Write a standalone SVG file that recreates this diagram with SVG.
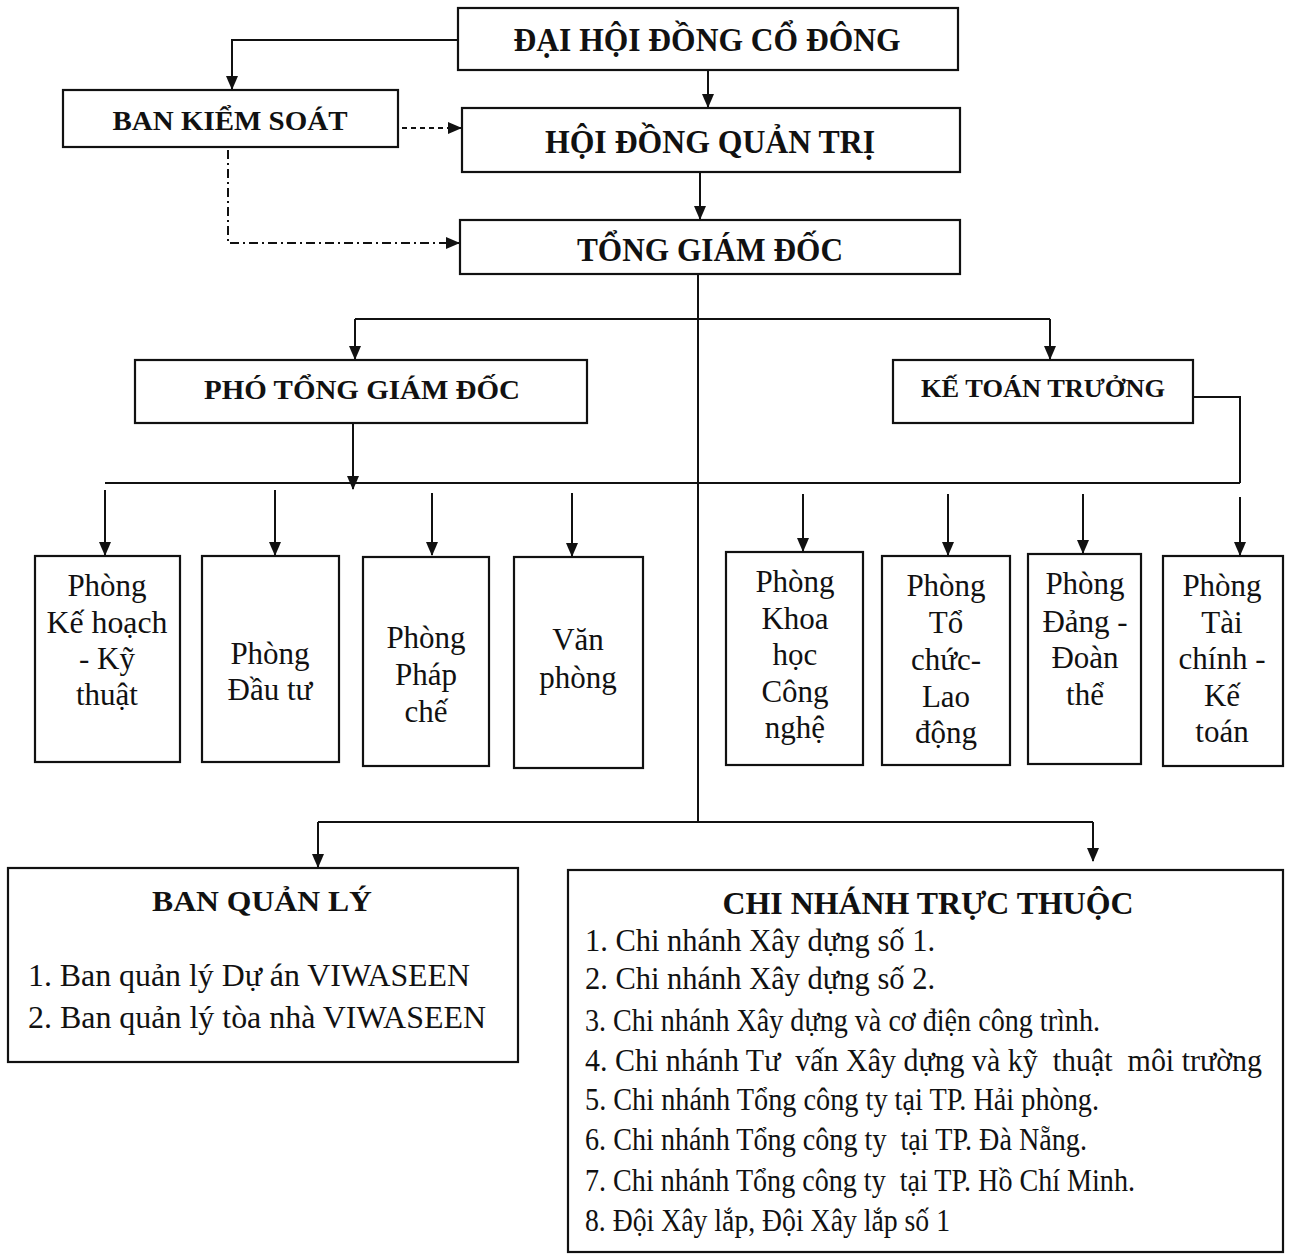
<svg xmlns="http://www.w3.org/2000/svg" width="1291" height="1260" viewBox="0 0 1291 1260">
<style>
.box{fill:#fff;stroke:#111;stroke-width:2.2}
.t{font-family:"Liberation Serif","Times New Roman",serif;fill:#111}
.b{font-weight:bold}
.c{text-anchor:middle}
.ln{fill:none;stroke:#111;stroke-width:2}
.dot{stroke-dasharray:5 4}
.dd{stroke-dasharray:9 4 2 4}
.p{font-size:31px;text-anchor:middle}
.li{font-size:31px}
</style>
<defs>
<marker id="ah" markerWidth="14" markerHeight="14" viewBox="0 0 14 14" refX="13" refY="7" orient="auto" markerUnits="userSpaceOnUse">
<path d="M0,1 L14,7 L0,13 z" fill="#111"/>
</marker>
</defs>
<rect width="1291" height="1260" fill="#fff"/>

<g id="connectors">
<path class="ln" d="M458,40 H232 V89" marker-end="url(#ah)"/>
<path class="ln" d="M708,70 V107" marker-end="url(#ah)"/>
<path class="ln dot" d="M402,128 H461" marker-end="url(#ah)"/>
<path class="ln" d="M700,172 V219" marker-end="url(#ah)"/>
<path class="ln dd" d="M228,150 V243 H459" marker-end="url(#ah)"/>
<path class="ln" d="M698,274 V822"/>
<path class="ln" d="M355,319 H1050"/>
<path class="ln" d="M355,319 V359" marker-end="url(#ah)"/>
<path class="ln" d="M1050,319 V359" marker-end="url(#ah)"/>
<path class="ln" d="M353,423 V489" marker-end="url(#ah)"/>
<path class="ln" d="M105,483 H1240"/>
<path class="ln" d="M1193,397 H1240 V483"/>
<path class="ln" d="M105,490 V555" marker-end="url(#ah)"/>
<path class="ln" d="M275,490 V555" marker-end="url(#ah)"/>
<path class="ln" d="M432,493 V555" marker-end="url(#ah)"/>
<path class="ln" d="M572,493 V556" marker-end="url(#ah)"/>
<path class="ln" d="M803,494 V551" marker-end="url(#ah)"/>
<path class="ln" d="M948,494 V555" marker-end="url(#ah)"/>
<path class="ln" d="M1083,494 V553" marker-end="url(#ah)"/>
<path class="ln" d="M1240,497 V555" marker-end="url(#ah)"/>
<path class="ln" d="M318,822 H1093"/>
<path class="ln" d="M318,822 V867" marker-end="url(#ah)"/>
<path class="ln" d="M1093,822 V861" marker-end="url(#ah)"/>
</g>

<g id="dai-hoi-dong-co-dong">
<rect class="box" x="458" y="8" width="500" height="62"/>
<text class="t b c" x="707" y="51" font-size="33" textLength="387" lengthAdjust="spacingAndGlyphs">ĐẠI HỘI ĐỒNG CỔ ĐÔNG</text>
</g>
<g id="ban-kiem-soat">
<rect class="box" x="63" y="90" width="335" height="57"/>
<text class="t b c" x="230" y="130" font-size="28" textLength="235" lengthAdjust="spacingAndGlyphs">BAN KIỂM SOÁT</text>
</g>
<g id="hoi-dong-quan-tri">
<rect class="box" x="462" y="108" width="498" height="64"/>
<text class="t b c" x="710" y="153" font-size="33" textLength="330" lengthAdjust="spacingAndGlyphs">HỘI ĐỒNG QUẢN TRỊ</text>
</g>
<g id="tong-giam-doc">
<rect class="box" x="460" y="220" width="500" height="54"/>
<text class="t b c" x="710" y="261" font-size="33" textLength="266" lengthAdjust="spacingAndGlyphs">TỔNG GIÁM ĐỐC</text>
</g>
<g id="pho-tong-giam-doc">
<rect class="box" x="135" y="360" width="452" height="63"/>
<text class="t b c" x="362" y="399" font-size="28" textLength="316" lengthAdjust="spacingAndGlyphs">PHÓ TỔNG GIÁM ĐỐC</text>
</g>
<g id="ke-toan-truong">
<rect class="box" x="893" y="360" width="300" height="63"/>
<text class="t b c" x="1043" y="397" font-size="26" textLength="244" lengthAdjust="spacingAndGlyphs">KẾ TOÁN TRƯỞNG</text>
</g>

<g id="phong-ke-hoach-ky-thuat">
<rect class="box" x="35" y="556" width="145" height="206"/>
<text class="t p" x="107" y="596">Phòng</text>
<text class="t p" x="107" y="633" textLength="121" lengthAdjust="spacingAndGlyphs">Kế hoạch</text>
<text class="t p" x="107" y="669">- Kỹ</text>
<text class="t p" x="107" y="705">thuật</text>
</g>
<g id="phong-dau-tu">
<rect class="box" x="202" y="556" width="137" height="206"/>
<text class="t p" x="270" y="664">Phòng</text>
<text class="t p" x="270" y="700">Đầu tư</text>
</g>
<g id="phong-phap-che">
<rect class="box" x="363" y="557" width="126" height="209"/>
<text class="t p" x="426" y="648">Phòng</text>
<text class="t p" x="426" y="685">Pháp</text>
<text class="t p" x="426" y="722">chế</text>
</g>
<g id="van-phong">
<rect class="box" x="514" y="557" width="129" height="211"/>
<text class="t p" x="578" y="650">Văn</text>
<text class="t p" x="578" y="688">phòng</text>
</g>
<g id="phong-khoa-hoc-cong-nghe">
<rect class="box" x="726" y="552" width="137" height="213"/>
<text class="t p" x="795" y="592">Phòng</text>
<text class="t p" x="795" y="629">Khoa</text>
<text class="t p" x="795" y="665">học</text>
<text class="t p" x="795" y="702">Công</text>
<text class="t p" x="795" y="738">nghệ</text>
</g>
<g id="phong-to-chuc-lao-dong">
<rect class="box" x="882" y="556" width="128" height="209"/>
<text class="t p" x="946" y="596">Phòng</text>
<text class="t p" x="946" y="633">Tổ</text>
<text class="t p" x="946" y="670">chức-</text>
<text class="t p" x="946" y="707">Lao</text>
<text class="t p" x="946" y="743">động</text>
</g>
<g id="phong-dang-doan-the">
<rect class="box" x="1028" y="554" width="113" height="210"/>
<text class="t p" x="1085" y="594">Phòng</text>
<text class="t p" x="1085" y="632">Đảng -</text>
<text class="t p" x="1085" y="668">Đoàn</text>
<text class="t p" x="1085" y="705">thể</text>
</g>
<g id="phong-tai-chinh-ke-toan">
<rect class="box" x="1163" y="556" width="120" height="210"/>
<text class="t p" x="1222" y="596">Phòng</text>
<text class="t p" x="1222" y="633">Tài</text>
<text class="t p" x="1222" y="669">chính -</text>
<text class="t p" x="1222" y="706">Kế</text>
<text class="t p" x="1222" y="742">toán</text>
</g>

<g id="ban-quan-ly">
<rect class="box" x="8" y="868" width="510" height="194"/>
<text class="t b c" x="262" y="911" font-size="30" textLength="220" lengthAdjust="spacingAndGlyphs">BAN QUẢN LÝ</text>
<text class="t li" x="28" y="986" textLength="442" lengthAdjust="spacingAndGlyphs">1. Ban quản lý Dự án VIWASEEN</text>
<text class="t li" x="28" y="1028" textLength="458" lengthAdjust="spacingAndGlyphs">2. Ban quản lý tòa nhà VIWASEEN</text>
</g>
<g id="chi-nhanh-truc-thuoc">
<rect class="box" x="568" y="870" width="715" height="382"/>
<text class="t b c" x="928" y="914" font-size="32" textLength="411" lengthAdjust="spacingAndGlyphs">CHI NHÁNH TRỰC THUỘC</text>
<text class="t li" x="585" y="951" textLength="350" lengthAdjust="spacingAndGlyphs">1. Chi nhánh Xây dựng số 1.</text>
<text class="t li" x="585" y="989" textLength="350" lengthAdjust="spacingAndGlyphs">2. Chi nhánh Xây dựng số 2.</text>
<text class="t li" x="585" y="1031" textLength="515" lengthAdjust="spacingAndGlyphs">3. Chi nhánh Xây dựng và cơ điện công trình.</text>
<text class="t li" x="585" y="1071" textLength="677" lengthAdjust="spacingAndGlyphs" xml:space="preserve">4. Chi nhánh Tư  vấn Xây dựng và kỹ  thuật  môi trường</text>
<text class="t li" x="585" y="1110" textLength="514" lengthAdjust="spacingAndGlyphs">5. Chi nhánh Tổng công ty tại TP. Hải phòng.</text>
<text class="t li" x="585" y="1150" textLength="502" lengthAdjust="spacingAndGlyphs" xml:space="preserve">6. Chi nhánh Tổng công ty  tại TP. Đà Nẵng.</text>
<text class="t li" x="585" y="1191" textLength="550" lengthAdjust="spacingAndGlyphs" xml:space="preserve">7. Chi nhánh Tổng công ty  tại TP. Hồ Chí Minh.</text>
<text class="t li" x="585" y="1231" textLength="365" lengthAdjust="spacingAndGlyphs">8. Đội Xây lắp, Đội Xây lắp số 1</text>
</g>
</svg>
